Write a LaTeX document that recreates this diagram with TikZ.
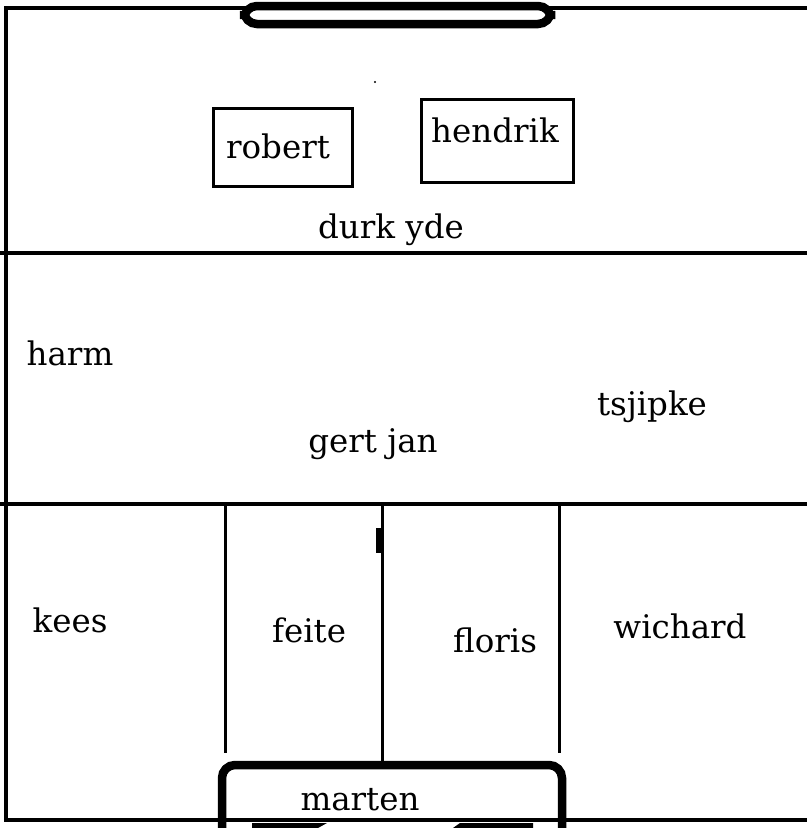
\documentclass[tikz,border=0pt]{standalone}
\usepackage{fontspec}
\setmainfont{DejaVu Serif}
\begin{document}
\begin{tikzpicture}[x=1pt,y=-1pt,
  fieldline/.style={line width=3.5pt},
  goal/.style={line width=8.5pt,rounded corners=13pt},
  player/.style={font=\fontsize{32.5}{36}\selectfont,anchor=base,inner sep=0pt},
  playerbox/.style={draw,line width=3pt}]
\useasboundingbox[fill=white] (0,0) rectangle (807,828);
\begin{scope}
\clip (0,0) rectangle (807,828);
% outer frame
\draw[fieldline] (807,8) -- (6,8) -- (6,820) -- (807,820);
\draw[fieldline] (0,253) -- (807,253);
\draw[fieldline] (0,504) -- (807,504);
% lanes
\draw[line width=3pt] (225,504) -- (225,753);
\draw[line width=3pt] (382,502) -- (382,765);
\draw[line width=3pt] (559,504) -- (559,753);
\draw[line width=5pt] (378,528) -- (378,553);
% goals
\draw[goal,fill=white] (244,6) rectangle (551,24);
\draw[goal] (222,870) -- (222,765) -- (562,765) -- (562,870);
\fill (252,823) -- (327,823) -- (318,828) -- (252,828) -- cycle;
\fill (460,823) -- (533,823) -- (533,828) -- (453,828) -- cycle;
\fill (375,82) circle (1.2);
\end{scope}
% player boxes
\draw[playerbox] (213,108) rectangle (352,186);
\draw[playerbox] (421,99) rectangle (573,182);
% players
\node[player] (robert) at (278,158) {robert};
\node[player] (hendrik) at (495,142) {hendrik};
\node[player] (durk) at (391,238) {durk yde};
\node[player] (harm) at (70,365) {harm};
\node[player] (tsjipke) at (652,415) {tsjipke};
\node[player] (gert) at (373,452) {gert jan};
\node[player] (kees) at (70,632) {kees};
\node[player] (feite) at (309,642) {feite};
\node[player] (floris) at (495,652) {floris};
\node[player] (wichard) at (680,638) {wichard};
\node[player] (marten) at (360,810) {marten};
\end{tikzpicture}
\end{document}
